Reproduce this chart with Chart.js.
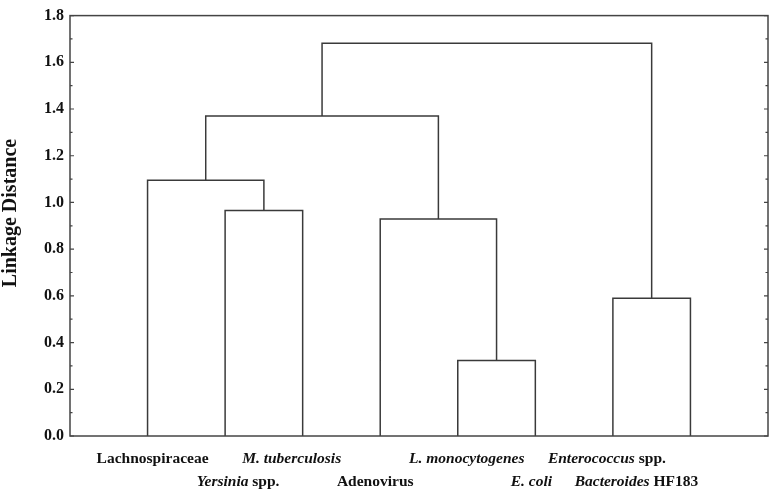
<!DOCTYPE html>
<html>
<head>
<meta charset="utf-8">
<script src="https://cdn.jsdelivr.net/npm/chart.js@4"></script>
<style>
  html, body { margin: 0; padding: 0; background: #fff; }
  #wrap { width: 772px; height: 491px; }
</style>
</head>
<body>
<div id="wrap"><canvas id="dendro"></canvas></div>
<script>
// leaves in plotting order
const leaves = ["Lachnospiraceae", "Yersinia spp.", "M. tuberculosis", "Adenovirus",
                "L. monocytogenes", "E. coli", "Enterococcus spp.", "Bacteroides HF183"];
// italic part of each leaf label (the rest is upright)
const italicPart = ["", "Yersinia", "M. tuberculosis", "", "L. monocytogenes", "E. coli", "Enterococcus", "Bacteroides"];

// merges: node ids 0..7 are leaves, merge k creates node 8+k
const mergeLeft   = [1, 0, 4, 3, 6, 9, 13];
const mergeRight  = [2, 8, 5, 10, 7, 11, 12];
const mergeHeight = [0.965, 1.095, 0.323, 0.929, 0.590, 1.370, 1.682];

const yTicks = [0.0, 0.2, 0.4, 0.6, 0.8, 1.0, 1.2, 1.4, 1.6, 1.8];
const yTitle = "Linkage Distance";

// node positions: leaf i sits at x = i + 1, merged node at midpoint of children
const nodeX = leaves.map((_, i) => i + 1);
const nodeY = leaves.map(() => 0);
mergeHeight.forEach((h, k) => {
  nodeX.push((nodeX[mergeLeft[k]] + nodeX[mergeRight[k]]) / 2);
  nodeY.push(h);
});

const lineColor = "#3a3a3a";
const datasets = mergeHeight.map((h, k) => {
  const a = mergeLeft[k], b = mergeRight[k];
  return {
    data: [
      { x: nodeX[a], y: nodeY[a] },
      { x: nodeX[a], y: h },
      { x: nodeX[b], y: h },
      { x: nodeX[b], y: nodeY[b] }
    ],
    showLine: true,
    borderColor: lineColor,
    borderWidth: 1.5,
    pointRadius: 0,
    tension: 0
  };
});

// small nudges of the leaf labels, in px, as placed in the original
const labelNudge = [5, 13, -11, -5, 9, -4, -6, -54];

const frameAndLabels = {
  id: "frameAndLabels",
  afterDraw(chart) {
    const ctx = chart.ctx;
    const a = chart.chartArea;
    const x = chart.scales.x, y = chart.scales.y;
    ctx.save();
    ctx.strokeStyle = "#444";
    ctx.lineWidth = 1.5;
    ctx.strokeRect(a.left, a.top, a.right - a.left, a.bottom - a.top);

    // inside ticks on left and right axes
    ctx.lineWidth = 1.2;
    ctx.beginPath();
    yTicks.forEach((v, i) => {
      const py = y.getPixelForValue(v);
      ctx.moveTo(a.left, py); ctx.lineTo(a.left + 4, py);
      ctx.moveTo(a.right, py); ctx.lineTo(a.right - 4, py);
      if (i < yTicks.length - 1) {
        const pm = y.getPixelForValue((v + yTicks[i + 1]) / 2);
        ctx.moveTo(a.left, pm); ctx.lineTo(a.left + 2.5, pm);
        ctx.moveTo(a.right, pm); ctx.lineTo(a.right - 2.5, pm);
      }
    });
    ctx.stroke();

    // axis title
    ctx.fillStyle = "#111";
    ctx.save();
    ctx.translate(16, 213);
    ctx.rotate(-Math.PI / 2);
    ctx.textAlign = "center";
    ctx.textBaseline = "alphabetic";
    ctx.font = "bold 20px 'Liberation Serif'";
    ctx.fillText(yTitle, 0, 0);
    ctx.restore();

    // leaf labels in two staggered rows
    ctx.textBaseline = "alphabetic";
    const italicFont = "italic bold 15.5px 'Liberation Serif'";
    const boldFont = "bold 15.5px 'Liberation Serif'";
    leaves.forEach((name, i) => {
      const it = italicPart[i];
      const rest = name.slice(it.length);
      ctx.font = italicFont;
      const w1 = ctx.measureText(it).width;
      ctx.font = boldFont;
      const w2 = ctx.measureText(rest).width;
      const cx = x.getPixelForValue(i + 1) + labelNudge[i];
      const py = i % 2 === 0 ? 463 : 486;
      let px = cx - (w1 + w2) / 2;
      ctx.textAlign = "left";
      ctx.font = italicFont;
      ctx.fillText(it, px, py);
      ctx.font = boldFont;
      ctx.fillText(rest, px + w1, py);
    });
    ctx.restore();
  }
};

new Chart(document.getElementById("dendro"), {
  type: "scatter",
  data: { datasets },
  options: {
    responsive: true,
    maintainAspectRatio: false,
    animation: false,
    layout: { padding: { top: 5, right: 4, left: 0, bottom: 0 } },
    plugins: { legend: { display: false }, tooltip: { enabled: false } },
    scales: {
      x: {
        type: "linear",
        min: 0,
        max: leaves.length + 1,
        grid: { display: false, drawTicks: false },
        border: { display: false },
        ticks: { display: false },
        afterFit(scale) { scale.height = 55; }
      },
      y: {
        min: 0,
        max: 1.8,
        afterBuildTicks(scale) { scale.ticks = yTicks.map(v => ({ value: v })); },
        grid: { display: false, drawTicks: false },
        border: { display: false },
        ticks: {
          color: "#111",
          padding: 6,
          font: { family: "'Liberation Serif'", weight: "bold", size: 16 },
          callback: v => Number(v).toFixed(1)
        },
        afterFit(scale) { scale.width = 70; }
      }
    }
  },
  plugins: [frameAndLabels]
});
</script>
</body>
</html>
